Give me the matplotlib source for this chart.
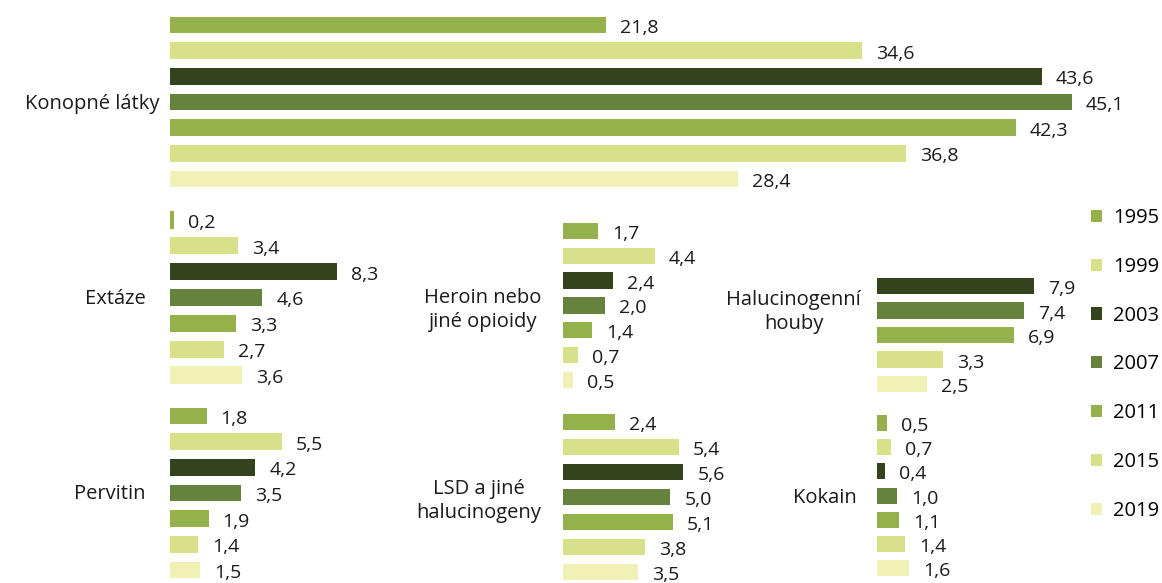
import matplotlib
matplotlib.use("Agg")
import matplotlib.pyplot as plt
from matplotlib.patches import Patch

plt.rcParams['font.family'] = ['Open Sans', 'DejaVu Sans']

roky = ['1995', '1999', '2003', '2007', '2011', '2015', '2019']
barvy = ['#95B14C', '#D9E08A', '#34421E', '#66833D', '#95B14C', '#D9E08A', '#F1F0B5']

konopne = [21.8, 34.6, 43.6, 45.1, 42.3, 36.8, 28.4]
extaze = [0.2, 3.4, 8.3, 4.6, 3.3, 2.7, 3.6]
pervitin = [1.8, 5.5, 4.2, 3.5, 1.9, 1.4, 1.5]
heroin = [1.7, 4.4, 2.4, 2.0, 1.4, 0.7, 0.5]
lsd = [2.4, 5.4, 5.6, 5.0, 5.1, 3.8, 3.5]
houby = [7.9, 7.4, 6.9, 3.3, 2.5]        # 2003-2019
houby_roky = [2, 3, 4, 5, 6]
kokain = [0.5, 0.7, 0.4, 1.0, 1.1, 1.4, 1.6]

W, H = 1162, 583
FS = 14
fig = plt.figure(figsize=(W / 100, H / 100), dpi=100)

# panel: (values, color idx, x0 px, first center px, spacing px, px per unit, width px)
panely = [
    (konopne, range(7), 170, 25, 25.67, 20.0, 990),
    (extaze, range(7), 170, 220, 25.83, 20.1, 300),
    (pervitin, range(7), 170, 416, 25.67, 20.3, 300),
    (heroin, range(7), 563, 231, 24.8, 20.8, 200),
    (lsd, range(7), 563, 422, 25.0, 21.5, 200),
    (houby, houby_roky, 877, 286, 24.5, 19.9, 200),
    (kokain, range(7), 877, 423, 24.2, 20.0, 200),
]

for vals, idx, x0, c0, sp, ppu, wpx in panely:
    n = len(vals)
    top = c0 - sp / 2
    hpx = n * sp
    ax = fig.add_axes([x0 / W, 1 - (top + hpx) / H, wpx / W, hpx / H])
    cols = [barvy[i] for i in idx]
    ax.barh(range(n), vals, height=0.66, color=cols)
    ax.set_xlim(0, wpx / ppu)
    ax.set_ylim(n - 0.5, -0.5)
    ax.axis('off')
    for i, v in enumerate(vals):
        ax.annotate(f"{v:.1f}".replace('.', ','), (v, i), xytext=(14, -3),
                    textcoords='offset pixels', va='center', ha='left',
                    fontsize=FS, color='#1a1a1a')

def popis(txt, x, y, ha='right'):
    fig.text(x / W, 1 - y / H, txt, ha=ha, va='center', fontsize=FS + 0.5,
             color='#1a1a1a', multialignment='center', linespacing=1.3)

popis('Konopné látky', 160, 104)
popis('Extáze', 146, 299)
popis('Pervitin', 146, 494)
popis('Heroin nebo\njiné opioidy', 541, 310)
popis('LSD a jiné\nhalucinogeny', 541, 501)
popis('Halucinogenní\nhouby', 861, 312)
popis('Kokain', 857, 498)

handles = [Patch(facecolor=c, edgecolor='none') for c in barvy]
fig.legend(handles, roky, loc='upper left', bbox_to_anchor=(1091 / W, 1 - 208 / H),
           frameon=False, fontsize=FS + 0.5, handlelength=0.55, handleheight=0.55,
           handletextpad=0.55, labelspacing=1.43, borderpad=0, borderaxespad=0)

fig.savefig('out.png', dpi=100)
